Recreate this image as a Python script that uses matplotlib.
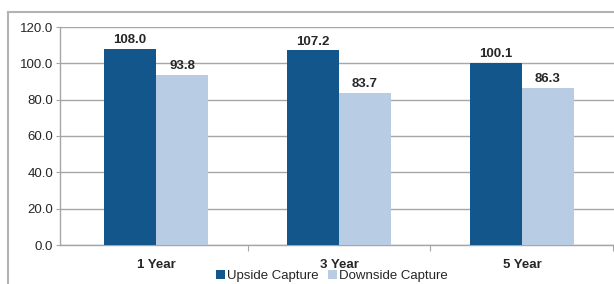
import numpy as np
import matplotlib
matplotlib.use("Agg")
import matplotlib.pyplot as plt
from matplotlib.lines import Line2D

plt.rcParams['font.family'] = ['Liberation Sans', 'DejaVu Sans']

# data
periods = ['1 Year', '3 Year', '5 Year']
upside = [108.0, 107.2, 100.1]
downside = [93.8, 83.7, 86.3]
y_ticks = [0, 20, 40, 60, 80, 100, 120]

dark = '#12568c'
light = '#b8cce4'
grid_c = '#a6a6a6'
txt_c = '#262626'

fig = plt.figure(figsize=(6.14, 2.84), dpi=100)
ax = fig.add_axes([60 / 614, 39 / 284, 554 / 614, 218 / 284])

x = np.arange(len(periods))
w = 0.284
b1 = ax.bar(x - w / 2, upside, w, color=dark, label='Upside Capture', zorder=3)
b2 = ax.bar(x + w / 2, downside, w, color=light, label='Downside Capture', zorder=3)

for bars in (b1, b2):
    for r in bars:
        ax.text(r.get_x() + r.get_width() / 2, r.get_height() + 1.5, f'{r.get_height():.1f}',
                ha='center', va='bottom', fontsize=9.5, fontweight='bold', color=txt_c)

ax.set_ylim(0, 120)
ax.set_yticks(y_ticks)
ax.set_yticklabels([f'{v:.1f}' for v in y_ticks], fontsize=9.5, color=txt_c)
ax.yaxis.grid(True, color=grid_c, linewidth=1.0, zorder=0)
ax.tick_params(axis='y', length=3, color=grid_c, pad=2)

ax.set_xlim(-0.525, 2.503)
ax.set_xticks([0.5, 1.5, 2.5])
ax.set_xticklabels([])
ax.set_xticks(x, minor=True)
ax.set_xticklabels(periods, minor=True, fontsize=9.5, fontweight='bold', color=txt_c)
ax.tick_params(axis='x', which='major', length=4, color=grid_c)
ax.tick_params(axis='x', which='minor', length=0, pad=10)

for s in ['top', 'right']:
    ax.spines[s].set_visible(False)
for s in ['left', 'bottom']:
    ax.spines[s].set_color(grid_c)
    ax.spines[s].set_linewidth(1.0)

fig.legend(loc='center', bbox_to_anchor=(332 / 614, 1 - 276 / 284), ncol=2, frameon=False,
           fontsize=9.5, handlelength=0.7, handleheight=0.7, handletextpad=0.15,
           columnspacing=0.7, borderaxespad=0, borderpad=0, labelcolor=txt_c)

# outer frame
fig.add_artist(Line2D([8 / 614, 8 / 614], [0, 1 - 12 / 284], transform=fig.transFigure,
                      color='#b3b3b3', linewidth=1.5))
fig.add_artist(Line2D([8 / 614, 1], [1 - 12 / 284, 1 - 12 / 284], transform=fig.transFigure,
                      color='#b3b3b3', linewidth=1.5))

fig.savefig('out.png', dpi=100)
